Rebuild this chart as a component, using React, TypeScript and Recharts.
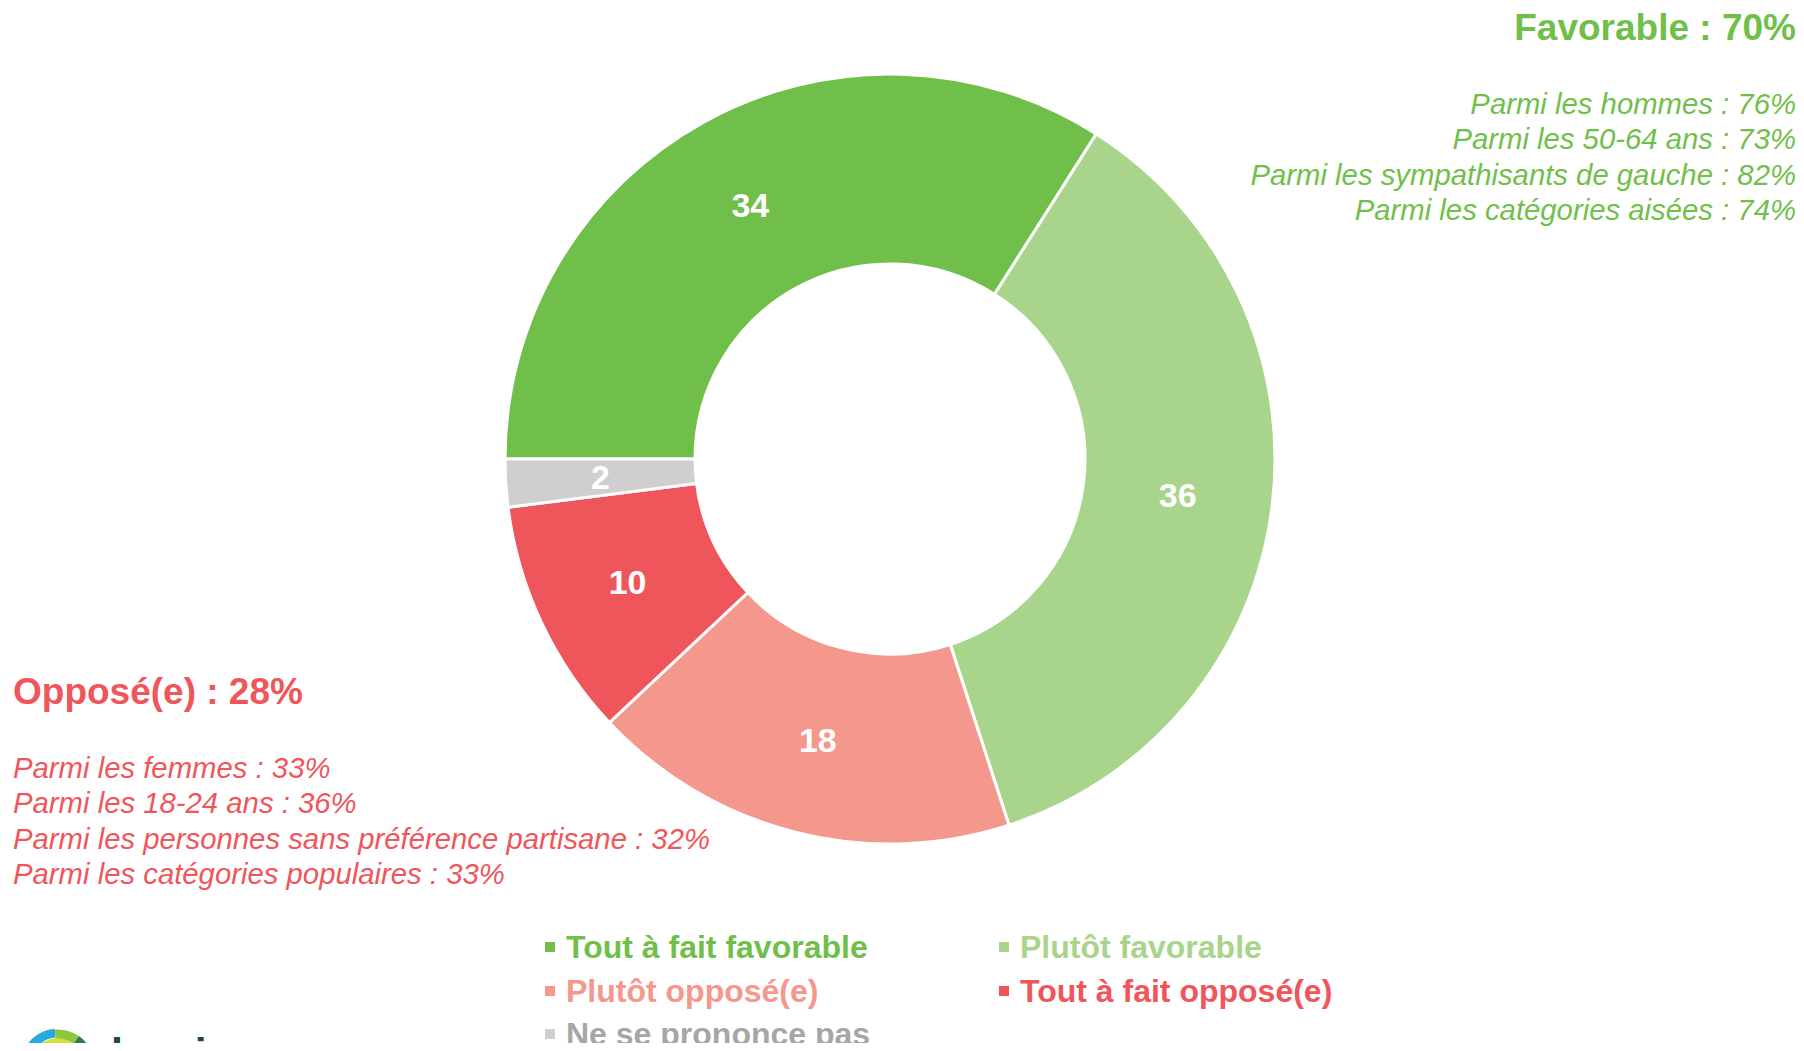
import { PieChart, Pie, Cell, Legend } from "recharts";

const CATEGORIES = [
  "Tout à fait favorable",
  "Plutôt favorable",
  "Plutôt opposé(e)",
  "Tout à fait opposé(e)",
  "Ne se prononce pas",
];
const VALUES = [34, 36, 18, 10, 2];
const COLORS = ["#71BF4B", "#A9D48C", "#F4978C", "#EF565B", "#D0CECF"];
const TEXT_COLORS = ["#71BF4B", "#A9D48C", "#F4978C", "#EF565B", "#A6A6A6"];

const FAVORABLE_TITLE = "Favorable : 70%";
const FAVORABLE_DETAILS = [
  "Parmi les hommes : 76%",
  "Parmi les 50-64 ans : 73%",
  "Parmi les sympathisants de gauche : 82%",
  "Parmi les catégories aisées : 74%",
];
const OPPOSED_TITLE = "Opposé(e) : 28%";
const OPPOSED_DETAILS = [
  "Parmi les femmes : 33%",
  "Parmi les 18-24 ans : 36%",
  "Parmi les personnes sans préférence partisane : 32%",
  "Parmi les catégories populaires : 33%",
];

const FONT = '"Liberation Sans", Arial, sans-serif';
const GREEN = "#71BF4B";
const RED = "#EF565B";
const RADIAN = Math.PI / 180;

const chartData = CATEGORIES.map((name, i) => ({ name, value: VALUES[i] }));

function SliceLabel({ cx, cy, midAngle, innerRadius, outerRadius, value }: any) {
  const r = (innerRadius + outerRadius) / 2;
  const x = cx + r * Math.cos(-midAngle * RADIAN);
  const y = cy + r * Math.sin(-midAngle * RADIAN);
  return (
    <text
      x={x}
      y={y}
      fill="#ffffff"
      textAnchor="middle"
      dominantBaseline="central"
      style={{ fontFamily: FONT, fontSize: 34, fontWeight: 700 }}
    >
      {value}
    </text>
  );
}

// legend grid: two columns, items laid out row by row
const LEGEND_COLS = [545, 999];
const LEGEND_ROWS = [22, 65.5, 109];

function LegendContent() {
  return (
    <div style={{ position: "relative", width: 1804, height: 126 }}>
      {CATEGORIES.map((c, i) => (
        <div
          key={c}
          style={{
            position: "absolute",
            left: LEGEND_COLS[i % 2],
            top: LEGEND_ROWS[Math.floor(i / 2)] - 16,
            height: 32,
            display: "flex",
            alignItems: "center",
            whiteSpace: "nowrap",
          }}
        >
          <span
            style={{ width: 10, height: 10, background: COLORS[i], marginRight: 11, display: "inline-block" }}
          />
          <span
            style={{
              fontFamily: FONT,
              fontSize: 32,
              fontWeight: 700,
              lineHeight: "32px",
              color: TEXT_COLORS[i],
            }}
          >
            {c}
          </span>
        </div>
      ))}
    </div>
  );
}

function Logo() {
  const cx = 58;
  const cy = 1066;
  const arc = (r: number, a0: number, a1: number) => {
    const p0 = [cx + r * Math.cos(a0 * RADIAN), cy - r * Math.sin(a0 * RADIAN)];
    const p1 = [cx + r * Math.cos(a1 * RADIAN), cy - r * Math.sin(a1 * RADIAN)];
    return `M${p0[0]},${p0[1]} A${r},${r} 0 0 1 ${p1[0]},${p1[1]}`;
  };
  return (
    <g>
      <circle cx={cx} cy={cy} r={28} fill="#D6E03A" />
      <path d={arc(33, 155, 95)} stroke="#29A9E1" strokeWidth={9} fill="none" />
      <path d={arc(32, 95, 55)} stroke="#8DC63F" strokeWidth={9} fill="none" />
      <path d={arc(32, 55, 20)} stroke="#2E7D4F" strokeWidth={9} fill="none" />
      <path d={arc(36, 20, -5)} stroke="#29A9E1" strokeWidth={6} fill="none" />
      <text x={111} y={1068} fill="#1D4B3A" style={{ fontFamily: FONT, fontSize: 43, fontWeight: 700 }}>
        harris
      </text>
    </g>
  );
}

export default function App() {
  return (
    <div
      style={{
        position: "relative",
        width: 1804,
        height: 1051,
        margin: -8,
        overflow: "hidden",
        background: "#ffffff",
      }}
    >
      <PieChart width={1804} height={1051} margin={{ top: 0, right: 0, bottom: 0, left: 0 }}>
        <Pie
          data={chartData}
          dataKey="value"
          nameKey="name"
          cx={890}
          cy={459}
          innerRadius={195}
          outerRadius={385}
          startAngle={180}
          endAngle={-180}
          stroke="#ffffff"
          strokeWidth={3}
          label={SliceLabel}
          labelLine={false}
          isAnimationActive={false}
        >
          {chartData.map((d, i) => (
            <Cell key={d.name} fill={COLORS[i]} />
          ))}
        </Pie>
        <Legend
          content={<LegendContent />}
          wrapperStyle={{ position: "absolute", left: 0, top: 925, width: 1804, height: 126 }}
        />
      </PieChart>
      <svg
        width={1804}
        height={1051}
        style={{ position: "absolute", left: 0, top: 0, pointerEvents: "none" }}
      >
        <text
          x={1796}
          y={40}
          textAnchor="end"
          fill={GREEN}
          style={{ fontFamily: FONT, fontSize: 37, fontWeight: 700 }}
        >
          {FAVORABLE_TITLE}
        </text>
        {FAVORABLE_DETAILS.map((t, i) => (
          <text
            key={t}
            x={1796}
            y={114 + i * 35.3}
            textAnchor="end"
            fill={GREEN}
            style={{ fontFamily: FONT, fontSize: 29.3, fontStyle: "italic" }}
          >
            {t}
          </text>
        ))}
        <text x={13} y={704} fill={RED} style={{ fontFamily: FONT, fontSize: 37, fontWeight: 700 }}>
          {OPPOSED_TITLE}
        </text>
        {OPPOSED_DETAILS.map((t, i) => (
          <text
            key={t}
            x={13}
            y={778 + i * 35.3}
            fill={RED}
            style={{ fontFamily: FONT, fontSize: 29.3, fontStyle: "italic" }}
          >
            {t}
          </text>
        ))}
        <Logo />
      </svg>
    </div>
  );
}
